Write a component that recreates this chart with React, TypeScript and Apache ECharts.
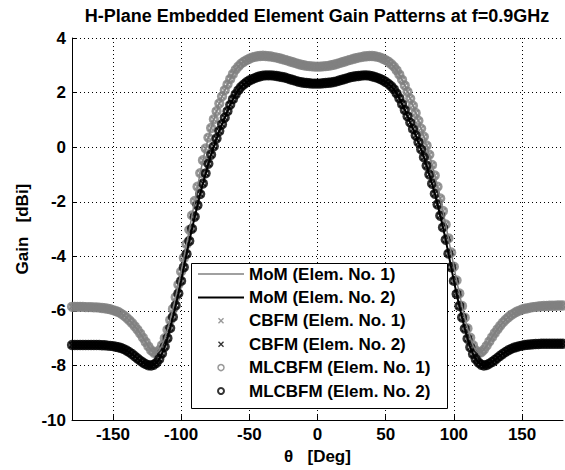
import React, { useEffect, useRef } from "react";
import * as echarts from "echarts";

const TITLE = "H-Plane Embedded Element Gain Patterns at f=0.9GHz";
const X_NAME = "θ   [Deg]";
const Y_NAME = "Gain   [dBi]";
const X_TICKS = [-150, -100, -50, 0, 50, 100, 150];
const SERIES_NAMES = [
  "MoM (Elem. No. 1)",
  "MoM (Elem. No. 2)",
  "CBFM (Elem. No. 1)",
  "CBFM (Elem. No. 2)",
  "MLCBFM (Elem. No. 1)",
  "MLCBFM (Elem. No. 2)",
];

// theta sampling grid: -180..180 deg, 2 deg step
const THETA_START = -180;
const THETA_STEP = 2;

// Gain of element 1 (gray), dBi, theta = -180..180 step 2
const GAIN_E1 = [
  -5.85, -5.85, -5.85, -5.85, -5.85, -5.86, -5.86, -5.86, -5.87, -5.87,
  -5.88, -5.89, -5.9, -5.92, -5.94, -5.97, -6.0, -6.04, -6.1, -6.17,
  -6.25, -6.34, -6.44, -6.56, -6.69, -6.83, -6.98, -7.14, -7.3, -7.44,
  -7.53, -7.54, -7.44, -7.26, -7.0, -6.69, -6.33, -5.93, -5.5, -5.04,
  -4.56, -4.06, -3.55, -3.03, -2.5, -1.97, -1.45, -0.95, -0.48, -0.05,
  0.35, 0.7, 1.02, 1.32, 1.6, 1.86, 2.09, 2.3, 2.5, 2.68,
  2.84, 2.96, 3.06, 3.13, 3.19, 3.24, 3.28, 3.31, 3.33, 3.34,
  3.35, 3.34, 3.33, 3.32, 3.3, 3.28, 3.26, 3.23, 3.2, 3.17,
  3.14, 3.11, 3.08, 3.05, 3.02, 3.0, 2.98, 2.97, 2.96, 2.95,
  2.95,
  2.95, 2.96, 2.97, 2.98, 3.0, 3.02, 3.05, 3.08, 3.11, 3.14,
  3.17, 3.2, 3.23, 3.26, 3.28, 3.3, 3.32, 3.33, 3.34, 3.34,
  3.33, 3.31, 3.28, 3.24, 3.19, 3.13, 3.05, 2.95, 2.82, 2.66,
  2.47, 2.26, 2.03, 1.78, 1.52, 1.25, 0.97, 0.68, 0.38, 0.06,
  -0.28, -0.65, -1.04, -1.45, -1.88, -2.34, -2.83, -3.34, -3.86, -4.38,
  -4.88, -5.36, -5.82, -6.25, -6.64, -6.98, -7.26, -7.45, -7.54, -7.52,
  -7.42, -7.28, -7.12, -6.96, -6.81, -6.67, -6.54, -6.42, -6.32, -6.23,
  -6.15, -6.09, -6.03, -5.99, -5.95, -5.92, -5.9, -5.88, -5.86, -5.85,
  -5.84, -5.83, -5.82, -5.82, -5.81, -5.81, -5.81, -5.8, -5.8, -5.8,
];

// Gain of element 2 (black), dBi, theta = -180..180 step 2
const GAIN_E2 = [
  -7.25, -7.25, -7.25, -7.25, -7.25, -7.25, -7.25, -7.25, -7.25, -7.25,
  -7.25, -7.26, -7.26, -7.27, -7.28, -7.29, -7.31, -7.33, -7.36, -7.4,
  -7.45, -7.51, -7.58, -7.66, -7.74, -7.82, -7.89, -7.95, -7.99, -8.0,
  -7.97, -7.9, -7.76, -7.56, -7.31, -7.0, -6.63, -6.22, -5.8, -5.36,
  -4.9, -4.4, -3.91, -3.44, -2.99, -2.55, -2.13, -1.72, -1.33, -0.96,
  -0.61, -0.28, 0.03, 0.32, 0.59, 0.84, 1.08, 1.32, 1.55, 1.76,
  1.94, 2.09, 2.21, 2.3, 2.38, 2.44, 2.49, 2.53, 2.57, 2.6,
  2.62, 2.63, 2.63, 2.63, 2.62, 2.61, 2.59, 2.57, 2.55, 2.52,
  2.49, 2.46, 2.43, 2.4, 2.38, 2.36, 2.35, 2.34, 2.33, 2.33,
  2.33,
  2.33, 2.34, 2.35, 2.36, 2.37, 2.39, 2.41, 2.44, 2.47, 2.5,
  2.53, 2.56, 2.58, 2.6, 2.61, 2.62, 2.63, 2.63, 2.62, 2.6,
  2.57, 2.54, 2.5, 2.45, 2.39, 2.32, 2.23, 2.12, 1.97, 1.79,
  1.58, 1.36, 1.13, 0.9, 0.67, 0.43, 0.18, -0.08, -0.37, -0.68,
  -1.0, -1.34, -1.71, -2.1, -2.51, -2.94, -3.39, -3.9, -4.4, -4.9,
  -5.38, -5.82, -6.24, -6.65, -7.02, -7.33, -7.58, -7.76, -7.89, -7.97,
  -8.0, -7.98, -7.93, -7.87, -7.8, -7.72, -7.64, -7.57, -7.5, -7.44,
  -7.39, -7.35, -7.32, -7.29, -7.27, -7.25, -7.24, -7.23, -7.22, -7.21,
  -7.21, -7.2, -7.2, -7.2, -7.2, -7.2, -7.2, -7.2, -7.2, -7.2,
];

const GRAY = "#808080";
const BLACK = "#000000";
const FONT = "Arial, 'Liberation Sans', sans-serif";
const X_PATH =
  "path://M0,1.6L1.6,0L5,3.4L8.4,0L10,1.6L6.6,5L10,8.4L8.4,10L5,6.6L1.6,10L0,8.4L3.4,5Z";

function pairs(values: number[]) {
  return values.map((v, i) => [THETA_START + i * THETA_STEP, v]);
}

export default function App() {
  const ref = useRef<HTMLDivElement>(null);

  useEffect(() => {
    if (!ref.current) return;
    const chart = echarts.init(ref.current, null, { renderer: "svg" });
    const d1 = pairs(GAIN_E1);
    const d2 = pairs(GAIN_E2);
    const textBase = { fontFamily: FONT, fontWeight: "bold" as const, color: "#000" };

    chart.setOption({
      animation: false,
      backgroundColor: "#ffffff",
      title: {
        text: TITLE,
        left: 317,
        top: 6,
        padding: 0,
        textAlign: "center",
        textStyle: { ...textBase, fontSize: 18, lineHeight: 20 },
      },
      grid: { left: 72, top: 38, width: 491, height: 385, containLabel: false },
      xAxis: {
        type: "value",
        min: -180,
        max: 180,
        name: X_NAME,
        nameLocation: "middle",
        nameGap: 24,
        nameTextStyle: { ...textBase, fontSize: 17 },
        axisLine: { show: true, onZero: false, lineStyle: { color: "#000", width: 1 } },
        axisTick: {
          show: true,
          inside: true,
          length: 5,
          customValues: X_TICKS,
          lineStyle: { color: "#000", width: 1 },
        },
        axisLabel: { ...textBase, fontSize: 17, margin: 6, customValues: X_TICKS },
        splitLine: {
          show: true,
          customValues: X_TICKS,
          lineStyle: { color: "#000", width: 1, type: [1, 3] },
        },
      },
      yAxis: {
        type: "value",
        min: -10,
        max: 4,
        interval: 2,
        name: Y_NAME,
        nameLocation: "middle",
        nameGap: 40,
        nameRotate: 90,
        nameTextStyle: { ...textBase, fontSize: 17 },
        axisLine: { show: true, onZero: false, lineStyle: { color: "#000", width: 1 } },
        axisTick: { show: true, inside: true, length: 5, lineStyle: { color: "#000", width: 1 } },
        axisLabel: { ...textBase, fontSize: 17, margin: 6 },
        splitLine: { show: true, lineStyle: { color: "#000", width: 1, type: [1, 3] } },
      },
      legend: {
        orient: "vertical",
        left: 198,
        top: 265,
        padding: 0,
        itemWidth: 46,
        itemHeight: 6,
        itemGap: 5.4,
        selectedMode: false,
        textStyle: { ...textBase, fontSize: 17, lineHeight: 18 },
        data: [
          { name: SERIES_NAMES[0], icon: "path://M0,0H46V1.5H0Z", itemStyle: { color: GRAY, borderWidth: 0 } },
          { name: SERIES_NAMES[1], icon: "path://M0,0H46V2H0Z", itemStyle: { color: BLACK, borderWidth: 0 } },
          { name: SERIES_NAMES[2], icon: X_PATH, itemStyle: { color: GRAY, borderWidth: 0 } },
          { name: SERIES_NAMES[3], icon: X_PATH, itemStyle: { color: BLACK, borderWidth: 0 } },
          {
            name: SERIES_NAMES[4],
            icon: "circle",
            itemStyle: { color: "rgba(0,0,0,0)", borderColor: GRAY, borderWidth: 1.5 },
          },
          {
            name: SERIES_NAMES[5],
            icon: "circle",
            itemStyle: { color: "rgba(0,0,0,0)", borderColor: BLACK, borderWidth: 2 },
          },
        ],
      },
      graphic: [
        {
          type: "rect",
          z: 3,
          shape: { x: 191.5, y: 263.5, width: 256, height: 145 },
          style: { fill: "#ffffff", stroke: "#000000", lineWidth: 1 },
        },
      ],
      series: [
        {
          name: SERIES_NAMES[0],
          type: "line",
          data: d1,
          symbol: "none",
          color: GRAY,
          lineStyle: { color: GRAY, width: 1.5 },
        },
        {
          name: SERIES_NAMES[1],
          type: "line",
          data: d2,
          symbol: "none",
          color: BLACK,
          lineStyle: { color: BLACK, width: 2 },
        },
        {
          name: SERIES_NAMES[2],
          type: "scatter",
          data: d1,
          symbol: X_PATH,
          symbolSize: 7,
          itemStyle: { color: GRAY },
        },
        {
          name: SERIES_NAMES[3],
          type: "scatter",
          data: d2,
          symbol: X_PATH,
          symbolSize: 7,
          itemStyle: { color: BLACK },
        },
        {
          name: SERIES_NAMES[4],
          type: "scatter",
          data: d1,
          symbol: "circle",
          symbolSize: 7.5,
          itemStyle: { color: "rgba(0,0,0,0)", borderColor: GRAY, borderWidth: 2.8 },
        },
        {
          name: SERIES_NAMES[5],
          type: "scatter",
          data: d2,
          symbol: "circle",
          symbolSize: 7.5,
          itemStyle: { color: "rgba(0,0,0,0)", borderColor: BLACK, borderWidth: 2.8 },
        },
      ],
    });

    return () => {
      chart.dispose();
    };
  }, []);

  return (
    <div
      ref={ref}
      style={{ position: "absolute", left: 0, top: 0, width: 565, height: 470, background: "#fff" }}
    />
  );
}
